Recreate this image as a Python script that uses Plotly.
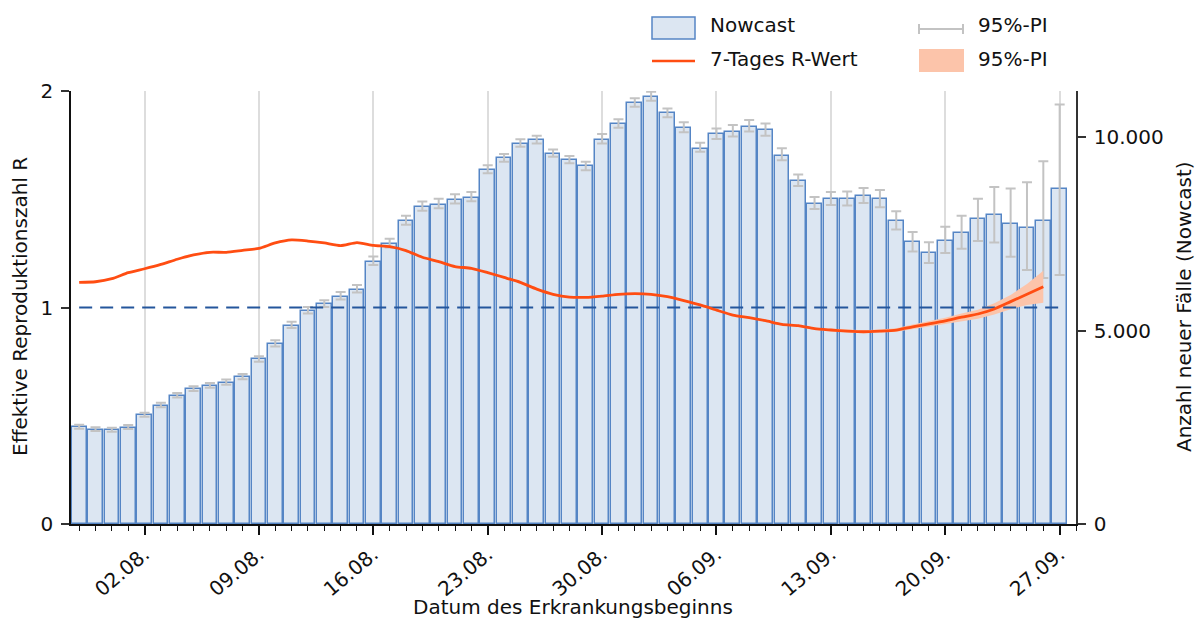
import pandas as pd
import plotly.graph_objects as go

# ---------------- data ----------------
start_date = "2020-07-29"
n_days = 61
dates = pd.date_range(start_date, periods=n_days, freq="D")

nowcast = [2500, 2440, 2420, 2490, 2810, 3060, 3310, 3480, 3570, 3650,
           3790, 4260, 4650, 5130, 5510, 5680, 5880, 6060, 6780, 7230,
           7830, 8190, 8260, 8380, 8440, 9160, 9460, 9840, 9930, 9580,
           9410, 9250, 9930, 10340, 10880, 11050, 10620, 10240, 9710, 10090,
           10150, 10270, 10180, 9530, 8860, 8280, 8400, 8400, 8490, 8400,
           7850, 7300, 7010, 7330, 7530, 7880, 7980, 7750, 7660, 7830,
           8660]
nowcast_lo = [2465, 2405, 2385, 2455, 2775, 3020, 3270, 3440, 3525, 3605,
              3745, 4200, 4590, 5070, 5445, 5610, 5810, 5990, 6700, 7150,
              7740, 8100, 8170, 8290, 8350, 9070, 9370, 9760, 9840, 9500,
              9330, 9150, 9840, 10250, 10790, 10950, 10520, 10130, 9630, 9960,
              10020, 10150, 10040, 9410, 8740, 8150, 8250, 8240, 8300, 8190,
              7620, 7050, 6750, 7010, 7120, 7320, 7280, 6910, 6570, 6360,
              6440]
nowcast_hi = [2570, 2505, 2490, 2560, 2880, 3135, 3390, 3560, 3650, 3735,
              3880, 4340, 4750, 5230, 5615, 5790, 6000, 6180, 6920, 7380,
              7970, 8340, 8410, 8530, 8590, 9280, 9570, 9950, 10040, 9690,
              9520, 9370, 10090, 10470, 11010, 11180, 10750, 10390, 9860, 10230,
              10320, 10450, 10360, 9720, 9040, 8460, 8590, 8600, 8690, 8640,
              8090, 7550, 7290, 7690, 7970, 8410, 8720, 8680, 8840, 9380,
              10850]

r_dates = dates[:60]
r_value = [1.116, 1.119, 1.133, 1.161, 1.179, 1.199, 1.223, 1.243, 1.255, 1.255,
           1.264, 1.273, 1.298, 1.312, 1.307, 1.298, 1.286, 1.300, 1.287, 1.281,
           1.263, 1.232, 1.212, 1.189, 1.181, 1.161, 1.139, 1.116, 1.085, 1.061,
           1.048, 1.047, 1.053, 1.061, 1.064, 1.061, 1.050, 1.032, 1.012, 0.988,
           0.965, 0.953, 0.939, 0.922, 0.916, 0.902, 0.896, 0.891, 0.888, 0.891,
           0.896, 0.911, 0.924, 0.938, 0.955, 0.970, 0.993, 1.027, 1.061, 1.096]
band_dates = dates[44:60]
r_lo = [0.911, 0.897, 0.890, 0.885, 0.881, 0.884, 0.888, 0.901,
        0.911, 0.922, 0.936, 0.948, 0.968, 0.992, 1.012, 1.022]
r_hi = [0.921, 0.907, 0.902, 0.897, 0.895, 0.898, 0.904, 0.921,
        0.936, 0.953, 0.972, 0.990, 1.020, 1.058, 1.109, 1.170]
r_threshold = 1

x_tickvals = ["2020-08-02", "2020-08-09", "2020-08-16", "2020-08-23", "2020-08-30",
              "2020-09-06", "2020-09-13", "2020-09-20", "2020-09-27"]
x_ticktext = ["02.08.", "09.08.", "16.08.", "23.08.", "30.08.",
              "06.09.", "13.09.", "20.09.", "27.09."]
cases_tickvals = [0, 5000, 10000]
cases_ticktext = ["0", "5.000", "10.000"]
r_tickvals = [0, 1, 2]
r_ticktext = ["0", "1", "2"]

# ---------------- style ----------------
FONT = "DejaVu Sans"
FS = 20
BAR_FILL = "#dce6f2"
BAR_LINE = "#5585c5"
ERR_COL = "#c3c3c3"
R_COL = "#ff4d12"
BAND_COL = "#fcc4aa"
DASH_COL = "#24569c"

# screen geometry (the page body has an 8px default margin)
OFF = 8
W, H = 1204, 622
L, R_, T, B = 71, 1076, 91, 524

def px(x):
    return (x - L) / (R_ - L)

def py(y):
    return (B - y) / (B - T)

fig = go.Figure()

fig.add_trace(go.Bar(
    x=dates, y=nowcast, yaxis="y",
    width=0.9 * 86400000,
    marker=dict(color=BAR_FILL, line=dict(color=BAR_LINE, width=1.5)),
    error_y=dict(type="data", symmetric=False,
                 array=[h - v for h, v in zip(nowcast_hi, nowcast)],
                 arrayminus=[v - l for v, l in zip(nowcast, nowcast_lo)],
                 color=ERR_COL, thickness=2, width=5),
    showlegend=False, name="Nowcast",
))

fig.add_trace(go.Scatter(
    x=list(band_dates) + list(band_dates[::-1]),
    y=r_hi + r_lo[::-1], yaxis="y2",
    fill="toself", fillcolor=BAND_COL, line=dict(width=0),
    mode="lines", showlegend=False, hoverinfo="skip",
))

fig.add_trace(go.Scatter(
    x=[dates[0], dates[-1]], y=[r_threshold, r_threshold], yaxis="y2",
    mode="lines", line=dict(color=DASH_COL, width=2, dash="13px,8px"),
    showlegend=False,
))

fig.add_trace(go.Scatter(
    x=r_dates, y=r_value, yaxis="y2", mode="lines",
    line=dict(color=R_COL, width=2.8, shape="spline", smoothing=0.6),
    showlegend=False, name="7-Tages R-Wert",
))

# ---------------- custom legend ----------------
shapes = [
    dict(type="rect", xref="paper", yref="paper",
         x0=px(652), x1=px(695), y0=py(39), y1=py(17),
         fillcolor=BAR_FILL, line=dict(color=BAR_LINE, width=1.5)),
    dict(type="line", xref="paper", yref="paper",
         x0=px(652), x1=px(695), y0=py(61), y1=py(61),
         line=dict(color=R_COL, width=2.5)),
    dict(type="line", xref="paper", yref="paper",
         x0=px(919), x1=px(963), y0=py(29), y1=py(29),
         line=dict(color=ERR_COL, width=2)),
    dict(type="line", xref="paper", yref="paper",
         x0=px(919), x1=px(919), y0=py(24), y1=py(34),
         line=dict(color=ERR_COL, width=2)),
    dict(type="line", xref="paper", yref="paper",
         x0=px(963), x1=px(963), y0=py(24), y1=py(34),
         line=dict(color=ERR_COL, width=2)),
    dict(type="rect", xref="paper", yref="paper",
         x0=px(919), x1=px(964), y0=py(72), y1=py(49),
         fillcolor=BAND_COL, line=dict(width=0)),
]

def label(text, x, y, **kw):
    d = dict(text=text, xref="paper", yref="paper", x=px(x), y=py(y),
             xanchor="left", yanchor="middle", showarrow=False,
             font=dict(family=FONT, size=FS, color="#111111"))
    d.update(kw)
    return d

annotations = [
    label("Nowcast", 708, 25),
    label("7-Tages R-Wert", 708, 59),
    label("95%-PI", 976, 25),
    label("95%-PI", 976, 59),
    label("Effektive Reproduktionszahl R", 20, 307, xanchor="center", textangle=-90),
    label("Anzahl neuer Fälle (Nowcast)", 1184, 307, xanchor="center", textangle=-90),
    label("Datum des Erkrankungsbeginns", 573, 607, xanchor="center"),
]

fig.update_layout(
    width=W - OFF, height=H - OFF,
    margin=dict(l=L - OFF, r=W - R_, t=T - OFF, b=H - B, pad=0),
    paper_bgcolor="white", plot_bgcolor="white",
    font=dict(family=FONT, size=FS, color="#111111"),
    bargap=0,
    showlegend=False,
    shapes=shapes,
    annotations=annotations,
    xaxis=dict(
        type="date",
        range=["2020-07-28 12:00", "2020-09-28 00:00"],
        tickmode="array", tickvals=x_tickvals, ticktext=x_ticktext,
        tickangle=-40, ticks="outside", ticklen=9, tickwidth=1.5, tickcolor="#111111",
        showgrid=True, gridcolor="#dddddd", gridwidth=1.5,
        showline=True, linecolor="#111111", linewidth=1.5,
        minor=dict(ticks="outside", ticklen=5, tickwidth=1, tickcolor="#111111",
                   dtick=86400000, tick0=start_date, showgrid=False),
        zeroline=False, fixedrange=True, ticklabelstandoff=0,
        tickfont=dict(family=FONT, size=FS),
    ),
    yaxis=dict(
        side="right", range=[0, 11200],
        tickmode="array", tickvals=cases_tickvals, ticktext=cases_ticktext,
        ticks="outside", ticklen=8, tickwidth=1.5, tickcolor="#333333",
        showline=True, linecolor="#333333", linewidth=1.5,
        showgrid=False, zeroline=False, ticklabelstandoff=4,
        tickfont=dict(family=FONT, size=FS),
    ),
    yaxis2=dict(
        side="left", overlaying="y", range=[0, 2],
        tickmode="array", tickvals=r_tickvals, ticktext=r_ticktext,
        ticks="outside", ticklen=8, tickwidth=1.5, tickcolor="#333333",
        showline=True, linecolor="#111111", linewidth=1.5,
        showgrid=False, zeroline=False, ticklabelstandoff=4,
        tickfont=dict(family=FONT, size=FS),
    ),
)

fig.write_html("out.html")
